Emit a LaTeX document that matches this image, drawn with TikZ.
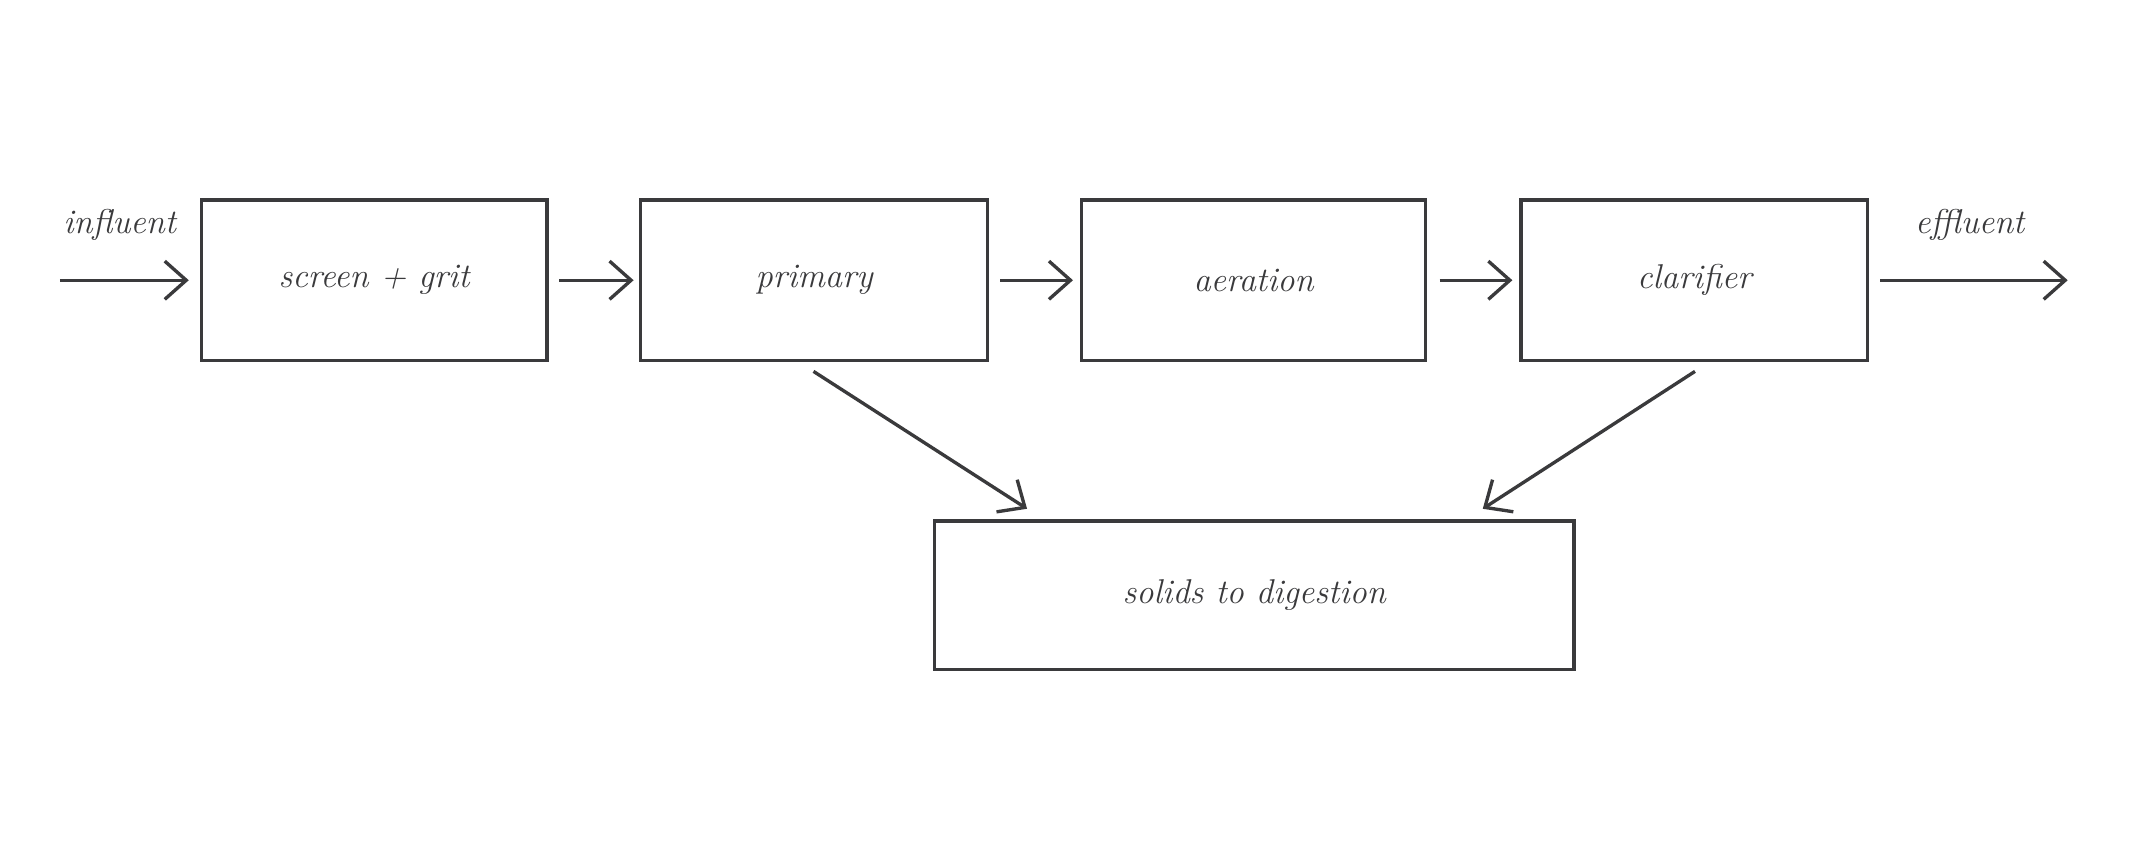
\documentclass[tikz,border=0pt]{standalone}
\usetikzlibrary{arrows.meta}
\definecolor{ink}{HTML}{3A3A3C}
\begin{document}
\begin{tikzpicture}[x=0.02cm,y=-0.02cm,
  box/.style={draw=ink,line width=1.4pt,inner sep=0pt,font=\Large\itshape,text=ink},
  arr/.style={draw=ink,line width=1.4pt,-{Straight Barb[length=9pt,width=16pt,line width=1.4pt]}},
  lab/.style={font=\Large\itshape,text=ink}]
\useasboundingbox (0,0) rectangle (1568,627);
\node[box,minimum width=254*0.02cm,minimum height=118*0.02cm] (s) at (275,206) {screen + grit};
\node[box,minimum width=255*0.02cm,minimum height=118*0.02cm] (p) at (598.5,206) {primary};
\node[box,minimum width=253*0.02cm,minimum height=118*0.02cm] (a) at (921.5,206) {aeration};
\node[box,minimum width=255*0.02cm,minimum height=118*0.02cm] (c) at (1245.5,206) {clarifier};
\node[box,minimum width=470*0.02cm,minimum height=109*0.02cm] (d) at (922,437.5) {solids to digestion};
\coordinate (in) at (44,206);
\coordinate (out) at (1520,206);
\node[lab] (li) at (88,165) {influent};
\node[lab] (le) at (1448,165) {effluent};
\draw[arr] (in) -- ([xshift=-8*0.02cm]s.west);
\draw[arr] ([xshift=8*0.02cm]s.east) -- ([xshift=-4*0.02cm]p.west);
\draw[arr] ([xshift=8*0.02cm]p.east) -- ([xshift=-5*0.02cm]a.west);
\draw[arr] ([xshift=9*0.02cm]a.east) -- ([xshift=-5*0.02cm]c.west);
\draw[arr] ([xshift=8*0.02cm]c.east) -- (out);
\coordinate (p1) at (598,273); \coordinate (p2) at (755,374);
\coordinate (c1) at (1246,273); \coordinate (c2) at (1090,374);
\draw[arr] (p1) -- (p2);
\draw[arr] (c1) -- (c2);
\end{tikzpicture}
\end{document}
